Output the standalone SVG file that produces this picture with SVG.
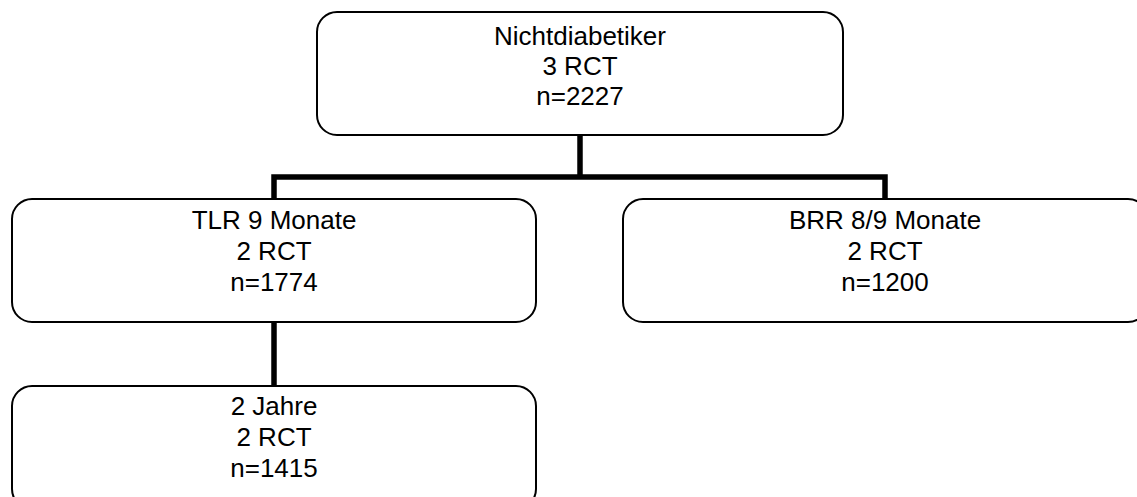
<svg xmlns="http://www.w3.org/2000/svg" width="1137" height="497" viewBox="0 0 1137 497">
<style>
.box{fill:#fff;stroke:#000;stroke-width:2}
.lbl{font-family:"Liberation Sans",Arial,sans-serif;font-size:26px;fill:#000;text-anchor:middle}
.con{fill:none;stroke:#000;stroke-width:5.5;stroke-linecap:butt;stroke-linejoin:miter}
</style>
<rect width="1137" height="497" fill="#fff"/>
<g id="connectors">
<path class="con" d="M580,135 V177"/>
<path class="con" d="M274,199 V177 H885 V199"/>
<path class="con" d="M274,322 V386"/>
</g>
<g id="node-top">
<rect class="box" x="317" y="12" width="526" height="123" rx="20" ry="20"/>
<text class="lbl" x="580" y="45">Nichtdiabetiker</text>
<text class="lbl" x="580" y="75">3 RCT</text>
<text class="lbl" x="580" y="105">n=2227</text>
</g>
<g id="node-tlr">
<rect class="box" x="12" y="199" width="524" height="123" rx="20" ry="20"/>
<text class="lbl" x="274" y="229">TLR 9 Monate</text>
<text class="lbl" x="274" y="260">2 RCT</text>
<text class="lbl" x="274" y="291">n=1774</text>
</g>
<g id="node-brr">
<rect class="box" x="623" y="199" width="525" height="123" rx="20" ry="20"/>
<text class="lbl" x="885" y="229">BRR 8/9 Monate</text>
<text class="lbl" x="885" y="260">2 RCT</text>
<text class="lbl" x="885" y="291">n=1200</text>
</g>
<g id="node-jahre">
<rect class="box" x="12" y="386" width="524" height="123" rx="20" ry="20"/>
<text class="lbl" x="274" y="415">2 Jahre</text>
<text class="lbl" x="274" y="446">2 RCT</text>
<text class="lbl" x="274" y="477">n=1415</text>
</g>
</svg>
